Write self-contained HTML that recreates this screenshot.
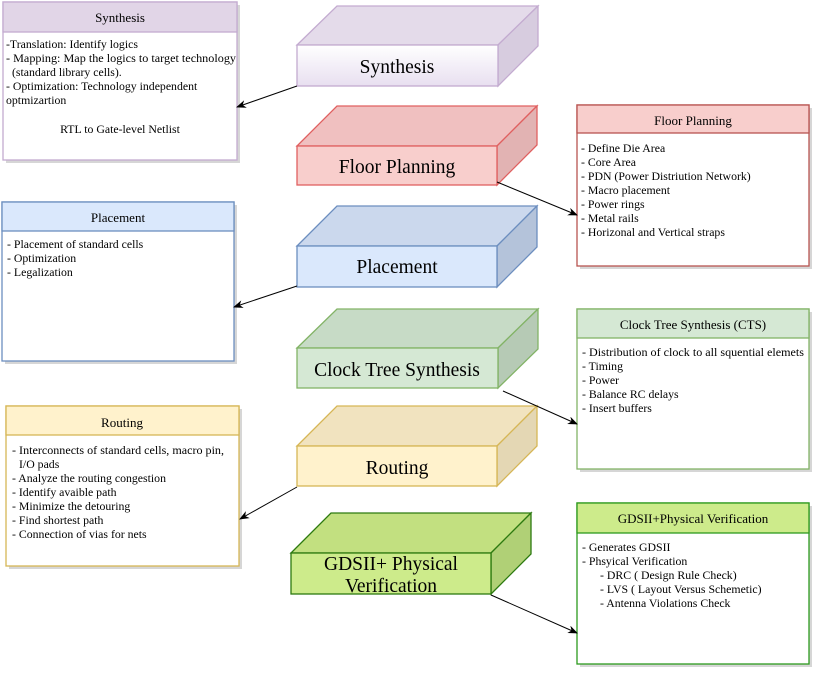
<!DOCTYPE html>
<html><head><meta charset="utf-8"><style>
html,body{margin:0;padding:0;background:#fff;}
svg text{font-family:"Liberation Serif",serif;fill:#000;}
.t{font-size:11.8px}
.h{font-size:13px}
.c{font-size:19.5px}
</style></head><body>
<svg width="822" height="678" viewBox="0 0 822 678" xmlns="http://www.w3.org/2000/svg">
<defs>
<marker id="a" markerWidth="10" markerHeight="8" refX="9" refY="4" orient="auto" markerUnits="userSpaceOnUse"><path d="M0,0 L10,4 L0,8 L3,4 z" fill="#000"/></marker>
<linearGradient id="gs" x1="0" y1="0" x2="0" y2="1"><stop offset="0" stop-color="#fff"/><stop offset="1" stop-color="#e8dff0"/></linearGradient>
</defs>
<g stroke-width="1.3">
<g fill="#bbb" opacity="0.6">
<rect x="6" y="5" width="234" height="158"/><rect x="580" y="108" width="232" height="161"/>
<rect x="5" y="205" width="232" height="159"/><rect x="580" y="312" width="232" height="160"/>
<rect x="9" y="409" width="233" height="160"/><rect x="580" y="506" width="232" height="161"/>
</g>
<rect x="3" y="2" width="234" height="158" fill="#fff" stroke="#c3abd0"/>
<rect x="3" y="2" width="234" height="30" fill="#e1d5e7" stroke="#c3abd0"/>
<text class="h" x="120" y="22" text-anchor="middle">Synthesis</text>
<text class="t" x="6" y="48">-Translation: Identify logics</text>
<text class="t" x="6" y="62" textLength="230" lengthAdjust="spacingAndGlyphs">- Mapping: Map the logics to target technology</text>
<text class="t" x="12" y="76">(standard library cells).</text>
<text class="t" x="6" y="90">- Optimization: Technology independent</text>
<text class="t" x="6" y="104">optmizartion</text>
<text class="t" x="120" y="133" text-anchor="middle">RTL to Gate-level Netlist</text>

<rect x="577" y="105" width="232" height="161" fill="#fff" stroke="#b85450"/>
<rect x="577" y="105" width="232" height="28" fill="#f8cecc" stroke="#b85450"/>
<text class="h" x="693" y="125" text-anchor="middle">Floor Planning</text>
<g class="t"><text x="581" y="152">- Define Die Area</text><text x="581" y="166">- Core Area</text><text x="581" y="180">- PDN (Power Distriution Network)</text><text x="581" y="194">- Macro placement</text><text x="581" y="208">- Power rings</text><text x="581" y="222">- Metal rails</text><text x="581" y="236">- Horizonal and Vertical straps</text></g>

<rect x="2" y="202" width="232" height="159" fill="#fff" stroke="#6c8ebf"/>
<rect x="2" y="202" width="232" height="29" fill="#dae8fc" stroke="#6c8ebf"/>
<text class="h" x="118" y="222" text-anchor="middle">Placement</text>
<g class="t"><text x="7" y="248">- Placement of standard cells</text><text x="7" y="262">- Optimization</text><text x="7" y="276">- Legalization</text></g>

<rect x="577" y="309" width="232" height="160" fill="#fff" stroke="#82b366"/>
<rect x="577" y="309" width="232" height="29" fill="#d5e8d4" stroke="#82b366"/>
<text class="h" x="693" y="329" text-anchor="middle">Clock Tree Synthesis (CTS)</text>
<g class="t"><text x="582" y="356" textLength="222" lengthAdjust="spacingAndGlyphs">- Distribution of clock to all squential elemets</text><text x="582" y="370">- Timing</text><text x="582" y="384">- Power</text><text x="582" y="398">- Balance RC delays</text><text x="582" y="412">- Insert buffers</text></g>

<rect x="6" y="406" width="233" height="160" fill="#fff" stroke="#d6b656"/>
<rect x="6" y="406" width="233" height="29" fill="#fff2cc" stroke="#d6b656"/>
<text class="h" x="122" y="427" text-anchor="middle">Routing</text>
<g class="t"><text x="12" y="454" textLength="212" lengthAdjust="spacingAndGlyphs">- Interconnects of standard cells, macro pin,</text><text x="19" y="468">I/O pads</text><text x="12" y="482">- Analyze the routing congestion</text><text x="12" y="496">- Identify avaible path</text><text x="12" y="510">- Minimize the detouring</text><text x="12" y="524">- Find shortest path</text><text x="12" y="538">- Connection of vias for nets</text></g>

<rect x="577" y="503" width="232" height="161" fill="#fff" stroke="#2d9a1e"/>
<rect x="577" y="503" width="232" height="30" fill="#cdeb8b" stroke="#2d9a1e"/>
<text class="h" x="693" y="523" text-anchor="middle">GDSII+Physical Verification</text>
<g class="t"><text x="582" y="551">- Generates GDSII</text><text x="582" y="565">- Phsyical Verification</text><text x="600" y="579">- DRC ( Design Rule Check)</text><text x="600" y="593">- LVS  ( Layout Versus Schemetic)</text><text x="600" y="607">- Antenna Violations Check</text></g>

<g stroke="#c3abd0">
<polygon points="297,45 337,6 538,6 498,45" fill="#e4dbea"/>
<polygon points="498,45 538,6 538,46 498,86" fill="#d7ccdf"/>
<rect x="297" y="45" width="201" height="41" fill="url(#gs)"/>
</g>
<text class="c" x="397" y="73" text-anchor="middle">Synthesis</text>
<g stroke="#e06060">
<polygon points="297,146 337,106 537,106 497,146" fill="#f0c0c0"/>
<polygon points="497,146 537,106 537,145 497,185" fill="#e2b3b3"/>
<rect x="297" y="146" width="200" height="39" fill="#f8cecc"/>
</g>
<text class="c" x="397" y="173" text-anchor="middle">Floor Planning</text>
<g stroke="#6c8ebf">
<polygon points="297,246 337,206 537,206 497,246" fill="#cbd8ed"/>
<polygon points="497,246 537,206 537,247 497,287" fill="#b4c3da"/>
<rect x="297" y="246" width="200" height="41" fill="#dae8fc"/>
</g>
<text class="c" x="397" y="273" text-anchor="middle">Placement</text>
<g stroke="#82b366">
<polygon points="297,348 337,309 538,309 498,348" fill="#c7dbc6"/>
<polygon points="498,348 538,309 538,349 498,388" fill="#b6cab5"/>
<rect x="297" y="348" width="201" height="40" fill="#d5e8d4"/>
</g>
<text class="c" x="397" y="376" text-anchor="middle">Clock Tree Synthesis</text>
<g stroke="#d6b656">
<polygon points="297,446 337,406 537,406 497,446" fill="#f1e3bf"/>
<polygon points="497,446 537,406 537,446 497,486" fill="#e4d7b4"/>
<rect x="297" y="446" width="200" height="40" fill="#fff2cc"/>
</g>
<text class="c" x="397" y="474" text-anchor="middle">Routing</text>
<g stroke="#2d7a10">
<polygon points="291,553 331,513 531,513 491,553" fill="#c2e080"/>
<polygon points="491,553 531,513 531,554 491,594" fill="#b0d076"/>
<rect x="291" y="553" width="200" height="41" fill="#cdeb8b"/>
</g>
<text class="c" x="391" y="570" text-anchor="middle">GDSII+ Physical</text>
<text class="c" x="391" y="592" text-anchor="middle">Verification</text>

<g stroke="#000" stroke-width="1" fill="none" marker-end="url(#a)">
<line x1="297" y1="86" x2="237" y2="107"/>
<line x1="497" y1="182" x2="577" y2="215"/>
<line x1="297" y1="286" x2="234" y2="307"/>
<line x1="503" y1="391" x2="577" y2="424"/>
<line x1="297" y1="487" x2="240" y2="519"/>
<line x1="491" y1="595" x2="577" y2="633"/>
</g>
</g>
</svg>
</body></html>
